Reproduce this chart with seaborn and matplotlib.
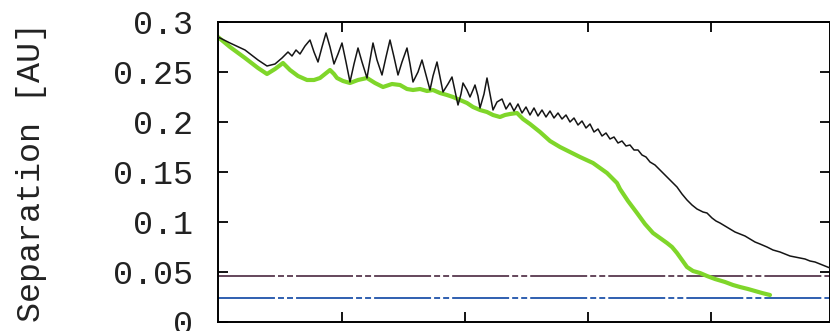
import matplotlib
matplotlib.use("Agg")
import matplotlib.pyplot as plt
import seaborn as sns
import pandas as pd

# ---- data (x in arbitrary time units; tick labels are cropped in the reference) ----
black_x = [0, 12, 27, 40, 49, 57, 64, 70, 74, 78, 82, 87, 92, 96, 100, 104, 108, 112, 116, 120,
           124, 128, 132, 136, 140, 144, 149, 152, 155, 159, 164, 168, 172, 176, 180, 184, 189, 192,
           195, 200, 204, 208, 212, 215, 219, 222, 225, 230, 234, 237, 240, 243, 245, 249, 252, 255,
           257, 260, 262, 266, 269, 272, 275, 279, 284, 288, 292, 296, 300, 304, 308, 312, 316, 320,
           324, 328, 332, 336, 340, 344, 348, 352, 356, 360, 364, 368, 372, 376, 380, 384, 388, 392,
           396, 400, 404, 408, 412, 416, 420, 424, 428, 432, 437, 442, 449, 454, 459, 464, 469, 474,
           479, 485, 489, 494, 498, 502, 507, 512, 517, 522, 527, 532, 537, 542, 549, 555, 562, 567,
           572, 577, 582, 587, 592, 597, 602, 607, 612]
black_y = [0.285, 0.279, 0.272, 0.262, 0.256, 0.258, 0.264, 0.270, 0.266, 0.272, 0.268, 0.276, 0.282,
           0.270, 0.260, 0.275, 0.289, 0.275, 0.258, 0.268, 0.279, 0.260, 0.240, 0.258, 0.274, 0.260,
           0.244, 0.262, 0.279, 0.262, 0.247, 0.265, 0.282, 0.265, 0.247, 0.260, 0.274, 0.258, 0.240,
           0.250, 0.262, 0.247, 0.232, 0.246, 0.260, 0.245, 0.230, 0.238, 0.245, 0.231, 0.217, 0.228,
           0.239, 0.232, 0.225, 0.232, 0.237, 0.226, 0.214, 0.228, 0.244, 0.228, 0.212, 0.220, 0.223,
           0.213, 0.219, 0.211, 0.218, 0.209, 0.215, 0.207, 0.214, 0.206, 0.212, 0.205, 0.211, 0.204,
           0.209, 0.203, 0.207, 0.200, 0.204, 0.197, 0.201, 0.194, 0.198, 0.190, 0.193, 0.186, 0.189,
           0.183, 0.185, 0.179, 0.181, 0.176, 0.177, 0.172, 0.172, 0.167, 0.165, 0.160, 0.157, 0.152,
           0.145, 0.140, 0.135, 0.128, 0.122, 0.117, 0.113, 0.110, 0.109, 0.104, 0.101, 0.099, 0.096,
           0.093, 0.090, 0.088, 0.086, 0.083, 0.080, 0.078, 0.075, 0.072, 0.070, 0.068, 0.066, 0.065,
           0.064, 0.063, 0.061, 0.060, 0.058, 0.056, 0.054]

green_x = [0, 12, 27, 40, 49, 57, 65, 72, 80, 89, 96, 102, 107, 112, 116, 119, 125, 132, 140, 149,
           157, 165, 174, 182, 189, 195, 202, 209, 215, 222, 229, 235, 242, 249, 255, 262, 269, 275,
           282, 287, 292, 299, 305, 312, 322, 332, 342, 352, 362, 375, 382, 389, 394, 399, 402, 410,
           419, 427, 435, 442, 449, 454, 459, 464, 469, 475, 482, 489, 497, 507, 515, 522, 530, 537,
           544, 552]
green_y = [0.285, 0.275, 0.264, 0.254, 0.248, 0.253, 0.259, 0.252, 0.246, 0.242, 0.242, 0.244, 0.248,
           0.252, 0.248, 0.244, 0.241, 0.239, 0.242, 0.244, 0.239, 0.235, 0.238, 0.237, 0.233, 0.232,
           0.233, 0.231, 0.232, 0.229, 0.227, 0.225, 0.222, 0.219, 0.215, 0.212, 0.210, 0.207, 0.205,
           0.207, 0.208, 0.209, 0.203, 0.198, 0.190, 0.181, 0.175, 0.170, 0.165, 0.159, 0.154, 0.149,
           0.144, 0.139, 0.133, 0.121, 0.109, 0.098, 0.089, 0.084, 0.079, 0.075, 0.069, 0.062, 0.055,
           0.051, 0.049, 0.046, 0.043, 0.040, 0.037, 0.035, 0.033, 0.031, 0.029, 0.027]

limit_upper = 0.046
limit_lower = 0.024

x_ticks = [124, 247, 370, 493]
y_ticks = [0, 0.05, 0.1, 0.15, 0.2, 0.25, 0.3]
y_tick_labels = ["0", "0.05", "0.1", "0.15", "0.2", "0.25", "0.3"]
y_label = "Separation [AU]"

# ---- plot ----
sns.set_theme(style="white")
plt.rcParams["font.family"] = ["Liberation Mono", "DejaVu Sans Mono"]
plt.rcParams["lines.scale_dashes"] = False

fig = plt.figure(figsize=(8.30, 3.31), dpi=100)
ax = fig.add_axes([218 / 830, 1 - 322 / 331, 612 / 830, 300 / 331])

dash = (41, 2.2, 4.3, 2.2, 4.3, 2.2)
ax.axhline(limit_upper, color="#4a2840", lw=1.2, dashes=dash, zorder=1)
ax.axhline(limit_lower, color="#2f5fb0", lw=1.4, dashes=dash, zorder=1)

df_g = pd.DataFrame({"x": green_x, "y": green_y})
df_b = pd.DataFrame({"x": black_x, "y": black_y})
sns.lineplot(data=df_g, x="x", y="y", ax=ax, color="#7fd62a", lw=3.0, sort=False, zorder=2)
sns.lineplot(data=df_b, x="x", y="y", ax=ax, color="#151515", lw=1.1, sort=False, zorder=3)

ax.set_xlim(0, 612)
ax.set_ylim(0, 0.3)
ax.set_xticks(x_ticks)
ax.set_xticklabels([])
ax.set_yticks(y_ticks)
ax.set_yticklabels(y_tick_labels)
ax.set_xlabel("")
ax.set_ylabel(y_label, fontsize=24, color="#222222")
ax.yaxis.set_label_coords(-0.279, 0.5)

for s in ax.spines.values():
    s.set_visible(True)
    s.set_color("black")
    s.set_linewidth(1.4)

ax.tick_params(axis="both", which="both", direction="in", length=7, width=1.3,
               color="black", top=True, right=True, bottom=True, left=True)
ax.tick_params(axis="y", labelsize=24, pad=18, labelcolor="#222222")
ax.grid(False)

fig.savefig("out.png", dpi=100)
